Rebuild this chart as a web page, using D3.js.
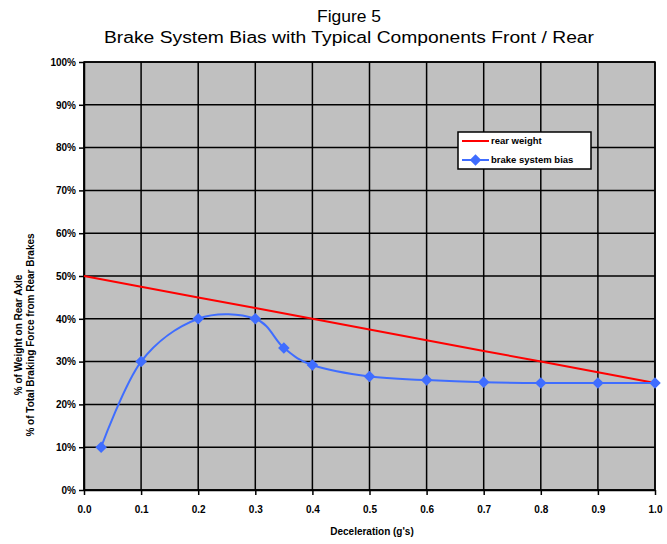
<!DOCTYPE html>
<html><head><meta charset="utf-8">
<script src="https://cdn.jsdelivr.net/npm/d3@7"></script>
<style>body{margin:0;background:#fff}svg{display:block;font-family:"Liberation Sans",Arial,sans-serif}</style>
</head><body>
<svg id="c" width="667" height="544"></svg>
<script>
const titleLines = ["Figure 5", "Brake System Bias with Typical Components Front / Rear"];
const titleWidths = [64, 490];
const xTickValues = [0,0.1,0.2,0.3,0.4,0.5,0.6,0.7,0.8,0.9,1.0];
const yTickValues = [0,0.1,0.2,0.3,0.4,0.5,0.6,0.7,0.8,0.9,1.0];
const rearWeightX = [0,0.1,0.2,0.3,0.4,0.5,0.6,0.7,0.8,0.9,1.0];
const rearWeightY = [0.50,0.475,0.45,0.425,0.40,0.375,0.35,0.325,0.30,0.275,0.25];
const biasX = [0.03,0.1,0.2,0.3,0.35,0.4,0.5,0.6,0.7,0.8,0.9,1.0];
const biasY = [0.10,0.30,0.40,0.40,0.332,0.292,0.265,0.257,0.252,0.25,0.25,0.25];
const seriesNames = ["rear weight", "brake system bias"];
const xTitle = "Deceleration (g's)";
const yTitleLines = ["% of Weight on Rear Axle", "% of Total Braking Force from Rear Brakes"];

const svg = d3.select("#c");
const L=84, R=655, T=62, B=490;
const x = d3.scaleLinear().domain([0,1]).range([L,R]);
const y = d3.scaleLinear().domain([0,1]).range([B,T]);

// title
svg.selectAll("text.title").data(titleLines).join("text")
  .attr("x",349).attr("y",(d,i)=>22+i*21).attr("text-anchor","middle")
  .attr("font-size",16).attr("textLength",(d,i)=>titleWidths[i]).attr("lengthAdjust","spacingAndGlyphs")
  .text(d=>d);

// plot background
svg.append("rect").attr("x",L).attr("y",T).attr("width",R-L).attr("height",B-T).attr("fill","#c0c0c0");

// grid
const g = svg.append("g");
g.selectAll("line.v").data(xTickValues).join("line")
  .attr("x1",d=>x(d)).attr("x2",d=>x(d)).attr("y1",T).attr("y2",B)
  .attr("stroke","#000").attr("stroke-width",1.5);
g.selectAll("line.h").data(yTickValues).join("line")
  .attr("y1",d=>y(d)).attr("y2",d=>y(d)).attr("x1",L).attr("x2",R)
  .attr("stroke","#000").attr("stroke-width",1.5);

// axes
const xAxis = d3.axisBottom(x).tickValues(xTickValues).tickFormat(d3.format(".1f")).tickSize(5).tickSizeOuter(0);
const yAxis = d3.axisLeft(y).tickValues(yTickValues).tickFormat(d3.format(".0%")).tickSize(5).tickSizeOuter(0);
const gx = svg.append("g").attr("transform",`translate(0,${B})`).call(xAxis);
const gy = svg.append("g").attr("transform",`translate(${L},0)`).call(yAxis);
[gx,gy].forEach(a=>{
  a.select(".domain").attr("stroke","#000").attr("stroke-width",1.5);
  a.selectAll(".tick line").attr("stroke","#000").attr("stroke-width",1.5);
  a.selectAll(".tick text").attr("font-family","'Liberation Sans',Arial,sans-serif")
    .attr("font-size",10).attr("font-weight","bold").attr("fill","#000");
});
gx.selectAll(".tick text").attr("dy","1.5em");
gy.selectAll(".tick text").attr("x",-8);

// border
svg.append("rect").attr("x",L).attr("y",T).attr("width",R-L).attr("height",B-T)
  .attr("fill","none").attr("stroke","#000").attr("stroke-width",1.5);

// rear weight line
const rw = rearWeightX.map((v,i)=>[v,rearWeightY[i]]);
svg.append("path").datum(rw)
  .attr("d",d3.line().x(d=>x(d[0])).y(d=>y(d[1])))
  .attr("fill","none").attr("stroke","#ff0000").attr("stroke-width",2);

// bias curve
const bias = biasX.map((v,i)=>[v,biasY[i]]);
const blue = "#3f6dff";
svg.append("path").datum(bias)
  .attr("d",d3.line().x(d=>x(d[0])).y(d=>y(d[1])).curve(d3.curveCatmullRom.alpha(0)))
  .attr("fill","none").attr("stroke",blue).attr("stroke-width",2);
const diamond = d3.symbol().type(d3.symbolDiamond2).size(85);
svg.selectAll("path.m").data(bias).join("path")
  .attr("transform",d=>`translate(${x(d[0])},${y(d[1])})`)
  .attr("d",diamond).attr("fill",blue);

// axis titles
svg.append("text").attr("x",372).attr("y",535).attr("text-anchor","middle")
  .attr("font-size",10).attr("font-weight","bold").text(xTitle);
svg.selectAll("text.yt").data(yTitleLines).join("text")
  .attr("transform",(d,i)=>`translate(${22+i*12},${335}) rotate(-90)`)
  .attr("text-anchor","middle").attr("font-size",10).attr("font-weight","bold").text(d=>d);

// legend
const lg = svg.append("g");
lg.append("rect").attr("x",458).attr("y",132).attr("width",133).attr("height",37)
  .attr("fill","#fff").attr("stroke","#000").attr("stroke-width",1.5);
lg.append("line").attr("x1",462).attr("x2",489).attr("y1",141).attr("y2",141).attr("stroke","#ff0000").attr("stroke-width",2);
lg.append("line").attr("x1",462).attr("x2",489).attr("y1",160).attr("y2",160).attr("stroke",blue).attr("stroke-width",2);
lg.append("path").attr("transform","translate(475.5,160)").attr("d",diamond).attr("fill",blue);
lg.selectAll("text").data(seriesNames).join("text")
  .attr("x",491).attr("y",(d,i)=>144+i*19).attr("font-size",9.5).attr("font-weight","bold").text(d=>d);
</script>
</body></html>
